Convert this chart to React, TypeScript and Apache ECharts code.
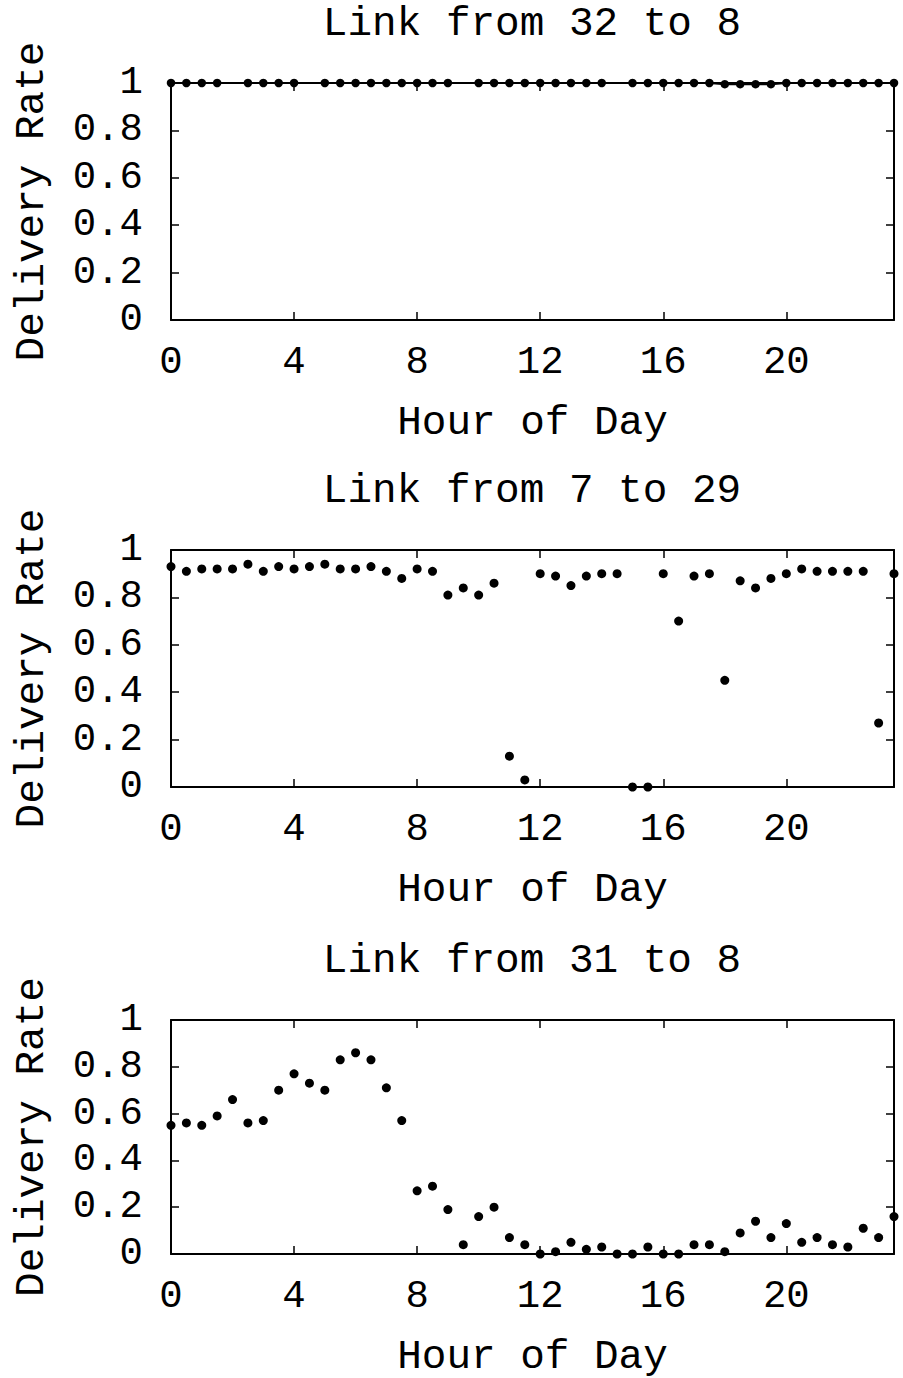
import React, { useEffect, useRef } from 'react';
import * as echarts from 'echarts';

const hours = [0, 0.5, 1, 1.5, 2, 2.5, 3, 3.5, 4, 4.5, 5, 5.5, 6, 6.5, 7, 7.5, 8, 8.5, 9, 9.5, 10, 10.5, 11, 11.5,
  12, 12.5, 13, 13.5, 14, 14.5, 15, 15.5, 16, 16.5, 17, 17.5, 18, 18.5, 19, 19.5, 20, 20.5, 21, 21.5, 22, 22.5, 23, 23.5];

const titles = ['Link from 32 to 8', 'Link from 7 to 29', 'Link from 31 to 8'];

// null = no measurement in that half-hour
const link32to8: (number | null)[] = [1, 1, 1, 1, null, 1, 1, 1, 1, null, 1, 1, 1, 1, 1, 1, 1, 1, 1, null, 1, 1, 1, 1,
  1, 1, 1, 1, 1, null, 1, 1, 1, 1, 1, 1, 0.995, 0.995, 0.995, 0.995, 1, 1, 1, 1, 1, 1, 1, 1];

const link7to29 = [0.93, 0.91, 0.92, 0.92, 0.92, 0.94, 0.91, 0.93, 0.92, 0.93, 0.94, 0.92, 0.92, 0.93, 0.91, 0.88, 0.92, 0.91, 0.81, 0.84, 0.81, 0.86, 0.13, 0.03,
  0.90, 0.89, 0.85, 0.89, 0.90, 0.90, 0.0, 0.0, 0.90, 0.70, 0.89, 0.90, 0.45, 0.87, 0.84, 0.88, 0.90, 0.92, 0.91, 0.91, 0.91, 0.91, 0.27, 0.90];

const link31to8 = [0.55, 0.56, 0.55, 0.59, 0.66, 0.56, 0.57, 0.70, 0.77, 0.73, 0.70, 0.83, 0.86, 0.83, 0.71, 0.57, 0.27, 0.29, 0.19, 0.04, 0.16, 0.20, 0.07, 0.04,
  0.0, 0.01, 0.05, 0.02, 0.03, 0.0, 0.0, 0.03, 0.0, 0.0, 0.04, 0.04, 0.01, 0.09, 0.14, 0.07, 0.13, 0.05, 0.07, 0.04, 0.03, 0.11, 0.07, 0.16];

const xName = 'Hour of Day';
const yName = 'Delivery Rate';
const xMin = 0;
const xMax = 23.5;
const xStep = 4;
const yMin = 0;
const yMax = 1;
const yStep = 0.2;

const FONT = "'Liberation Mono', 'Courier New', monospace";
const FS = 39;
const FS_NAME = 41;

export default function App() {
  const ref = useRef<HTMLDivElement>(null);
  useEffect(() => {
    if (!ref.current) return;
    const chart = echarts.init(ref.current, null, { renderer: 'svg' });
    const tops = [83, 550, 1020];
    const H = 237;
    const txt = { fontFamily: FONT, fontSize: FS, color: '#000' };
    const nameTxt = { fontFamily: FONT, fontSize: FS_NAME, color: '#000' };
    const line = { show: true, onZero: false, lineStyle: { color: '#000', width: 2 } };
    const tick = { show: true, inside: true, length: 8, lineStyle: { color: '#000', width: 1.5 } };

    const grid: any[] = [];
    const xAxis: any[] = [];
    const yAxis: any[] = [];
    const title: any[] = [];
    tops.forEach((t, i) => {
      grid.push({ left: 171, width: 723, top: t, height: H });
      title.push({
        text: titles[i], left: 532, top: t - 80, textAlign: 'center', padding: 0,
        textStyle: { ...nameTxt, fontWeight: 'normal' },
      });
      xAxis.push({
        gridIndex: i, type: 'value', min: xMin, max: xMax, interval: xStep, position: 'bottom',
        axisLine: line, axisTick: tick, splitLine: { show: false },
        axisLabel: { ...txt, margin: 23, showMaxLabel: false },
        name: xName, nameLocation: 'middle', nameGap: 82, nameTextStyle: nameTxt,
      });
      xAxis.push({
        gridIndex: i, type: 'value', min: xMin, max: xMax, interval: xStep, position: 'top',
        axisLine: line, axisTick: tick, splitLine: { show: false }, axisLabel: { show: false },
      });
      yAxis.push({
        gridIndex: i, type: 'value', min: yMin, max: yMax, interval: yStep, position: 'left',
        axisLine: line, axisTick: tick, splitLine: { show: false },
        axisLabel: { ...txt, margin: 28 },
        name: yName, nameLocation: 'middle', nameGap: 119, nameTextStyle: nameTxt,
      });
      yAxis.push({
        gridIndex: i, type: 'value', min: yMin, max: yMax, interval: yStep, position: 'right',
        axisLine: line, axisTick: tick, splitLine: { show: false }, axisLabel: { show: false },
      });
    });

    const series: any[] = [
      {
        type: 'line', xAxisIndex: 0, yAxisIndex: 0, clip: false, connectNulls: false,
        data: hours.map((h, k) => [h, link32to8[k] == null ? '-' : link32to8[k]]),
        symbol: 'circle', symbolSize: 8.5, showSymbol: true,
        lineStyle: { color: '#000', width: 2 }, itemStyle: { color: '#000', opacity: 1 },
      },
      {
        type: 'scatter', xAxisIndex: 2, yAxisIndex: 2, clip: false,
        data: hours.map((h, k) => [h, link7to29[k]]),
        symbol: 'circle', symbolSize: 9, itemStyle: { color: '#000', opacity: 1 },
      },
      {
        type: 'scatter', xAxisIndex: 4, yAxisIndex: 4, clip: false,
        data: hours.map((h, k) => [h, link31to8[k]]),
        symbol: 'circle', symbolSize: 9, itemStyle: { color: '#000', opacity: 1 },
      },
    ];

    chart.setOption({
      animation: false,
      backgroundColor: '#fff',
      title, grid, xAxis, yAxis, series,
    });
    return () => chart.dispose();
  }, []);
  return (
    <div
      ref={ref}
      style={{ position: 'absolute', left: 0, top: 0, width: 903, height: 1378, background: '#fff' }}
    />
  );
}
